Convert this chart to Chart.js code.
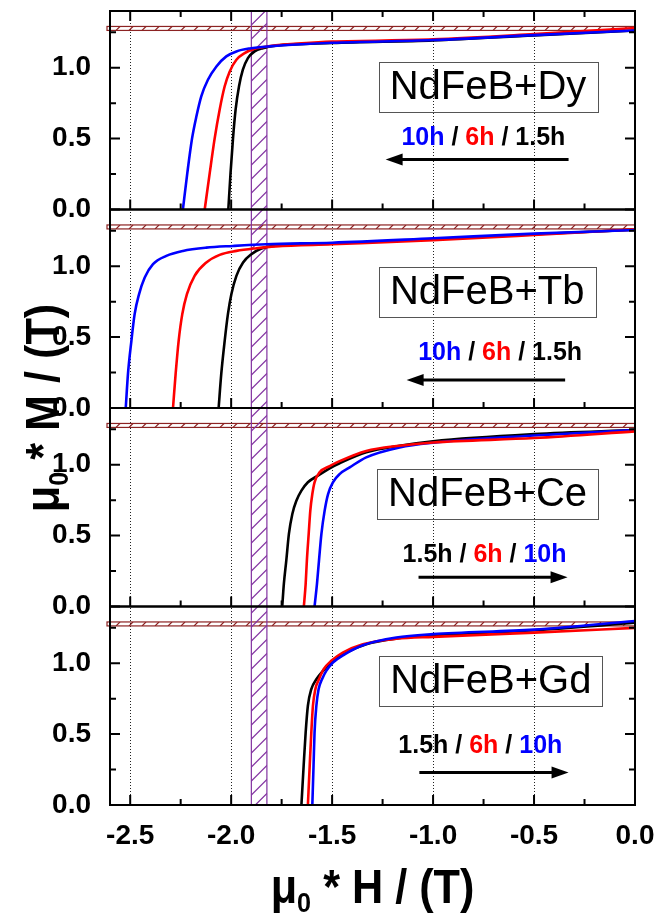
<!DOCTYPE html>
<html>
<head>
<meta charset="utf-8">
<script src="https://cdn.jsdelivr.net/npm/chart.js@4.4.0/dist/chart.umd.min.js"></script>
<style>
  html, body { margin: 0; padding: 0; background: #fff; }
  #wrap { position: relative; width: 666px; height: 921px; }
</style>
</head>
<body>
<div id="wrap"><canvas id="chart" width="666" height="921"></canvas></div>
<script>
const FONT = "'Liberation Sans', Arial, Helvetica, sans-serif";

// axis ticks
const xTicks = [-2.5, -2.0, -1.5, -1.0, -0.5, 0.0];
const xTickLabels = ['-2.5', '-2.0', '-1.5', '-1.0', '-0.5', '0.0'];
const xMinorTicks = [-2.25, -1.75, -1.25, -0.75, -0.25];
const yTicks = [0, 0.5, 1.0];
const yTickLabels = ['0.0', '0.5', '1.0'];
const yMinorTicks = [0.25, 0.75, 1.25];

// [mu0*H, mu0*M]
const dy10h = [[-2.239, 0], [-2.217, 0.258], [-2.194, 0.498], [-2.172, 0.657], [-2.148, 0.798], [-2.115, 0.915], [-2.073, 1.009], [-2.024, 1.08], [-1.974, 1.115], [-1.908, 1.136], [-1.8, 1.152], [-1.65, 1.166], [-1.5, 1.176], [-1.0, 1.195], [-0.5, 1.23], [0, 1.262]];
const dy6h  = [[-2.131, 0], [-2.106, 0.258], [-2.082, 0.498], [-2.057, 0.704], [-2.032, 0.869], [-2.007, 0.974], [-1.974, 1.056], [-1.933, 1.103], [-1.884, 1.133], [-1.8, 1.155], [-1.65, 1.172], [-1.5, 1.184], [-1.0, 1.2], [-0.5, 1.237], [0, 1.28]];
const dy15h = [[-2.014, 0], [-2.003, 0.258], [-1.991, 0.498], [-1.978, 0.704], [-1.961, 0.869], [-1.942, 0.986], [-1.917, 1.068], [-1.884, 1.115], [-1.843, 1.138], [-1.78, 1.155], [-1.5, 1.175], [-1.0, 1.193], [-0.5, 1.228], [0, 1.262]];

const tb10h = [[-2.522, 0], [-2.511, 0.24], [-2.494, 0.474], [-2.478, 0.662], [-2.456, 0.803], [-2.428, 0.92], [-2.387, 1.014], [-2.321, 1.073], [-2.239, 1.108], [-2.123, 1.131], [-1.991, 1.143], [-1.826, 1.155], [-1.5, 1.166], [-1.0, 1.197], [-0.5, 1.23], [0, 1.255]];
const tb6h  = [[-2.288, 0], [-2.275, 0.24], [-2.26, 0.474], [-2.242, 0.662], [-2.219, 0.803], [-2.181, 0.932], [-2.123, 1.026], [-2.057, 1.08], [-1.974, 1.108], [-1.875, 1.127], [-1.78, 1.14], [-1.5, 1.155], [-1.0, 1.183], [-0.5, 1.22], [0, 1.26]];
const tb15h = [[-2.062, 0], [-2.049, 0.24], [-2.032, 0.474], [-2.016, 0.662], [-1.999, 0.803], [-1.974, 0.932], [-1.941, 1.026], [-1.9, 1.085], [-1.85, 1.125], [-1.793, 1.143], [-1.5, 1.16], [-1.0, 1.19], [-0.5, 1.225], [0, 1.258]];

const ce10h = [[-1.587, 0], [-1.575, 0.16], [-1.565, 0.324], [-1.553, 0.512], [-1.537, 0.676], [-1.52, 0.793], [-1.496, 0.876], [-1.463, 0.934], [-1.413, 0.981], [-1.331, 1.052], [-1.166, 1.122], [-1.0, 1.155], [-0.5, 1.206], [0, 1.244]];
const ce6h  = [[-1.64, 0], [-1.631, 0.16], [-1.625, 0.324], [-1.616, 0.512], [-1.608, 0.676], [-1.598, 0.793], [-1.587, 0.876], [-1.562, 0.946], [-1.512, 0.99], [-1.463, 1.025], [-1.331, 1.097], [-1.166, 1.134], [-1.0, 1.157], [-0.5, 1.188], [0, 1.235]];
const ce15h = [[-1.747, 0], [-1.739, 0.16], [-1.727, 0.324], [-1.714, 0.512], [-1.697, 0.653], [-1.677, 0.746], [-1.652, 0.817], [-1.62, 0.876], [-1.57, 0.923], [-1.512, 0.975], [-1.463, 1.01], [-1.331, 1.087], [-1.166, 1.134], [-1.0, 1.166], [-0.5, 1.216], [0, 1.244]];

const gd10h = [[-1.598, 0], [-1.592, 0.277], [-1.587, 0.512], [-1.578, 0.7], [-1.567, 0.817], [-1.55, 0.887], [-1.529, 0.946], [-1.496, 1.005], [-1.438, 1.063], [-1.348, 1.127], [-1.182, 1.181], [-1.0, 1.205], [-0.5, 1.237], [0, 1.298]];
const gd6h  = [[-1.62, 0], [-1.611, 0.277], [-1.603, 0.512], [-1.595, 0.7], [-1.583, 0.817], [-1.565, 0.887], [-1.542, 0.958], [-1.504, 1.017], [-1.447, 1.075], [-1.348, 1.134], [-1.182, 1.172], [-1.0, 1.186], [-0.5, 1.216], [0, 1.249]];
const gd15h = [[-1.652, 0], [-1.641, 0.277], [-1.631, 0.512], [-1.62, 0.7], [-1.603, 0.817], [-1.578, 0.887], [-1.545, 0.946], [-1.496, 1.017], [-1.43, 1.075], [-1.331, 1.134], [-1.182, 1.174], [-1.0, 1.195], [-0.5, 1.232], [0, 1.285]];

const BLUE = '#0000ff', RED = '#ff0000', BLACK = '#000000';

// panels from top to bottom
const panelAxes = ['yDy', 'yTb', 'yCe', 'yGd'];

const series = [
  { axis: 'yDy', label: '10h', color: BLUE, order: 1, data: dy10h },
  { axis: 'yDy', label: '6h', color: RED, order: 2, data: dy6h },
  { axis: 'yDy', label: '1.5h', color: BLACK, order: 3, data: dy15h },
  { axis: 'yTb', label: '10h', color: BLUE, order: 1, data: tb10h },
  { axis: 'yTb', label: '6h', color: RED, order: 2, data: tb6h },
  { axis: 'yTb', label: '1.5h', color: BLACK, order: 3, data: tb15h },
  { axis: 'yCe', label: '10h', color: BLUE, order: 2, data: ce10h },
  { axis: 'yCe', label: '6h', color: RED, order: 1, data: ce6h },
  { axis: 'yCe', label: '1.5h', color: BLACK, order: 3, data: ce15h },
  { axis: 'yGd', label: '10h', color: BLUE, order: 1, data: gd10h },
  { axis: 'yGd', label: '6h', color: RED, order: 2, data: gd6h },
  { axis: 'yGd', label: '1.5h', color: BLACK, order: 3, data: gd15h }
];

// hatched reference bands
const mBand = [1.263, 1.291];
const hBand = [-1.9, -1.823];

// panel labels: box centre, hours text centre, arrow tail -> tip (data units of each panel)
const notes = [
  { axis: 'yDy', name: 'NdFeB+Dy', bx: -0.728, by: 0.863, hx: -0.751, hy: 0.504,
    hours: [['10h', BLUE], [' / ', BLACK], ['6h', RED], [' / ', BLACK], ['1.5h', BLACK]], ay: 0.352, a0: -0.329, a1: -1.235 },
  { axis: 'yTb', name: 'NdFeB+Tb', bx: -0.732, by: 0.817, hx: -0.668, hy: 0.386,
    hours: [['10h', BLUE], [' / ', BLACK], ['6h', RED], [' / ', BLACK], ['1.5h', BLACK]], ay: 0.197, a0: -0.346, a1: -1.131 },
  { axis: 'yCe', name: 'NdFeB+Ce', bx: -0.73, by: 0.794, hx: -0.745, hy: 0.359,
    hours: [['1.5h', BLACK], [' / ', BLACK], ['6h', RED], [' / ', BLACK], ['10h', BLUE]], ay: 0.206, a0: -1.072, a1: -0.334 },
  { axis: 'yGd', name: 'NdFeB+Gd', bx: -0.714, by: 0.877, hx: -0.766, hy: 0.413,
    hours: [['1.5h', BLACK], [' / ', BLACK], ['6h', RED], [' / ', BLACK], ['10h', BLUE]], ay: 0.23, a0: -1.068, a1: -0.329 }
];

function hatchRect(ctx, x, y, w, h, color, step) {
  ctx.save();
  ctx.strokeStyle = color;
  ctx.lineWidth = 1.2;
  ctx.strokeRect(x, y, w, h);
  ctx.beginPath();
  ctx.rect(x, y, w, h);
  ctx.clip();
  ctx.beginPath();
  for (let k = -h; k < w + h; k += step) {
    ctx.moveTo(x + k, y + h);
    ctx.lineTo(x + k + h, y);
  }
  ctx.stroke();
  ctx.restore();
}

function drawTitle(ctx, cx, cy, angle, parts) {
  ctx.save();
  ctx.translate(cx, cy);
  ctx.rotate(angle);
  ctx.scale(0.9, 1);
  ctx.fillStyle = '#000';
  ctx.textBaseline = 'alphabetic';
  ctx.textAlign = 'left';
  let total = 0;
  parts.forEach(p => { ctx.font = `bold ${p.size}px ${FONT}`; p.w = ctx.measureText(p.t).width; total += p.w; });
  let px = -total / 2;
  parts.forEach(p => {
    ctx.font = `bold ${p.size}px ${FONT}`;
    ctx.fillText(p.t, px, p.dy);
    px += p.w;
  });
  ctx.restore();
}

const decor = {
  id: 'decor',
  beforeDatasetsDraw(chart) {
    const { ctx, chartArea: a, scales } = chart;
    const x = scales.x;
    ctx.save();
    ctx.strokeStyle = '#222';
    ctx.lineWidth = 1;
    ctx.setLineDash([1, 2]);
    ctx.beginPath();
    xTicks.slice(0, -1).forEach(v => {
      const px = Math.round(x.getPixelForValue(v)) + 0.5;
      ctx.moveTo(px, a.top);
      ctx.lineTo(px, a.bottom);
    });
    ctx.stroke();
    ctx.setLineDash([]);
    panelAxes.forEach(id => {
      const y = scales[id];
      const t = y.getPixelForValue(mBand[1]);
      const b = y.getPixelForValue(mBand[0]);
      hatchRect(ctx, a.left - 3, t, a.right - a.left + 3, b - t, 'rgb(140,35,35)', 13);
    });
    const l = x.getPixelForValue(hBand[0]);
    const r = x.getPixelForValue(hBand[1]);
    hatchRect(ctx, l, a.top, r - l, a.bottom - a.top, 'rgb(130,50,160)', 14);
    ctx.restore();
  },
  afterDatasetsDraw(chart) {
    const { ctx, chartArea: a, scales } = chart;
    const x = scales.x;
    ctx.save();
    ctx.strokeStyle = '#000';
    ctx.lineWidth = 2;
    panelAxes.forEach((id, i) => {
      const y = scales[id];
      const top = y.top, bot = y.bottom;
      ctx.beginPath();
      const xt = (v, len) => {
        const px = x.getPixelForValue(v);
        ctx.moveTo(px, bot); ctx.lineTo(px, bot - len);
        if (i === 0) { ctx.moveTo(px, top); ctx.lineTo(px, top + len); }
      };
      xTicks.forEach(v => xt(v, 10));
      xMinorTicks.forEach(v => xt(v, 6));
      const yt = (v, len) => {
        const py = y.getPixelForValue(v);
        ctx.moveTo(a.left, py); ctx.lineTo(a.left + len, py);
        ctx.moveTo(a.right, py); ctx.lineTo(a.right - len, py);
      };
      yTicks.forEach(v => yt(v, 10));
      yMinorTicks.forEach(v => yt(v, 6));
      ctx.stroke();
      ctx.strokeRect(a.left, top, a.right - a.left, bot - top);
    });

    notes.forEach(n => {
      const y = scales[n.axis];
      // name box
      const cx = x.getPixelForValue(n.bx), cy = y.getPixelForValue(n.by);
      ctx.font = `40px ${FONT}`;
      const w = ctx.measureText(n.name).width + 22;
      ctx.lineWidth = 1;
      ctx.strokeStyle = '#555';
      ctx.strokeRect(Math.round(cx - w / 2) + 0.5, Math.round(cy - 25) + 0.5, Math.round(w), 50);
      ctx.fillStyle = '#000';
      ctx.textAlign = 'center';
      ctx.textBaseline = 'middle';
      ctx.fillText(n.name, cx, cy + 1);
      // hours
      ctx.font = `bold 25px ${FONT}`;
      let total = 0;
      n.hours.forEach(h => { total += ctx.measureText(h[0]).width; });
      let hx = x.getPixelForValue(n.hx) - total / 2;
      const hy = y.getPixelForValue(n.hy);
      ctx.textAlign = 'left';
      n.hours.forEach(h => {
        ctx.fillStyle = h[1];
        ctx.fillText(h[0], hx, hy);
        hx += ctx.measureText(h[0]).width;
      });
      // arrow
      const ax0 = x.getPixelForValue(n.a0), ax1 = x.getPixelForValue(n.a1), ay = y.getPixelForValue(n.ay);
      const dir = Math.sign(ax1 - ax0);
      ctx.strokeStyle = '#000';
      ctx.lineWidth = 3;
      ctx.beginPath();
      ctx.moveTo(ax0, ay);
      ctx.lineTo(ax1 - dir * 12, ay);
      ctx.stroke();
      ctx.fillStyle = '#000';
      ctx.beginPath();
      ctx.moveTo(ax1, ay);
      ctx.lineTo(ax1 - dir * 17, ay - 6);
      ctx.lineTo(ax1 - dir * 17, ay + 6);
      ctx.closePath();
      ctx.fill();
    });

    // axis titles
    drawTitle(ctx, (a.left + a.right) / 2, 903, 0, [
      { t: 'μ', size: 48, dy: 0 }, { t: '0', size: 28, dy: 9 }, { t: ' * H / (T)', size: 48, dy: 0 }
    ]);
    drawTitle(ctx, 59, (a.top + a.bottom) / 2, -Math.PI / 2, [
      { t: 'μ', size: 48, dy: 0 }, { t: '0', size: 28, dy: 9 }, { t: ' * M / (T)', size: 48, dy: 0 }
    ]);
    ctx.restore();
  }
};

function yAxis() {
  return {
    type: 'linear',
    position: 'left',
    stack: 'panels',
    stackWeight: 1,
    min: 0,
    max: 1.4,
    grid: { display: false },
    border: { display: false },
    afterBuildTicks: s => { s.ticks = yTicks.map(v => ({ value: v })); },
    afterFit: s => { s.width = 110; s.paddingTop = 0; s.paddingBottom = 0; },
    ticks: {
      color: '#000',
      padding: 11,
      font: { family: FONT, size: 28, weight: 'bold' },
      callback: (v, i) => yTickLabels[i]
    }
  };
}

new Chart(document.getElementById('chart'), {
  type: 'line',
  data: {
    datasets: series.map(s => ({
      label: s.label,
      yAxisID: s.axis,
      data: s.data.map(p => ({ x: p[0], y: p[1] })),
      borderColor: s.color,
      borderWidth: 2.6,
      pointRadius: 0,
      cubicInterpolationMode: 'monotone',
      order: s.order
    }))
  },
  options: {
    responsive: false,
    animation: false,
    layout: { padding: { top: 11, right: 31, left: 0, bottom: 0 } },
    plugins: { legend: { display: false }, tooltip: { enabled: false } },
    scales: {
      x: {
        type: 'linear',
        position: 'bottom',
        min: -2.6,
        max: 0,
        grid: { display: false },
        border: { display: false },
        afterBuildTicks: s => { s.ticks = xTicks.map(v => ({ value: v })); },
        afterFit: s => { s.height = 116; s.paddingLeft = 0; s.paddingRight = 0; },
        ticks: {
          color: '#000',
          padding: 6,
          autoSkip: false,
          maxRotation: 0,
          font: { family: FONT, size: 28, weight: 'bold' },
          callback: (v, i) => xTickLabels[i]
        }
      },
      // stacked left axes: the last one listed is placed on top
      yGd: yAxis(),
      yCe: yAxis(),
      yTb: yAxis(),
      yDy: yAxis()
    }
  },
  plugins: [decor]
});
</script>
</body>
</html>
